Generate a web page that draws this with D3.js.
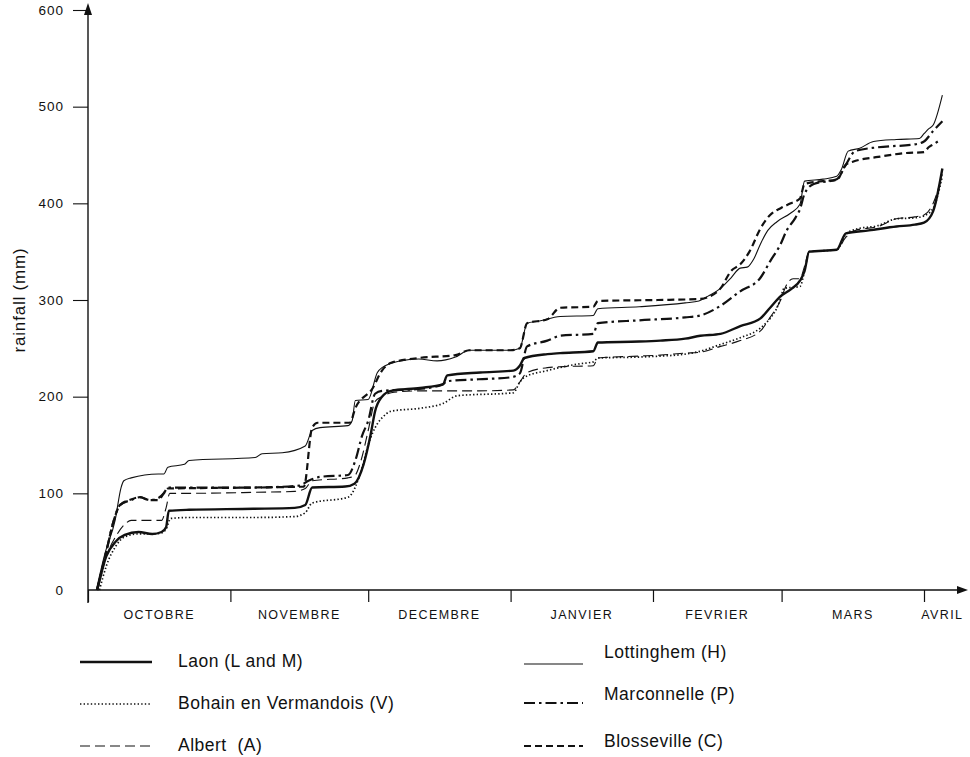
<!DOCTYPE html>
<html>
<head>
<meta charset="utf-8">
<script src="https://cdn.jsdelivr.net/npm/d3@7"></script>
<style>
  body { margin: 0; background: #fff; }
  text { font-family: "Liberation Sans", Arial, sans-serif; fill: #111; white-space: pre; }
</style>
</head>
<body>
<div id="chart"></div>
<script>
// cumulative rainfall, [day after 1 Oct, mm]
var laon = [[2,0],[4,35],[6,50],[8,57],[11,60],[14,58],[16,60],[17,65],[17.6,82],[22,83],[36,84],[45,85],[47.3,88],[48.8,106],[56,107],[58,110],[60,130],[61.5,160],[62.5,185],[64,200],[66,206],[72.3,209],[77.3,213],[78.2,222],[85.4,225],[92.6,227],[94,232],[95,240],[100,244],[102.8,245],[110,247],[111,256],[120,257],[124.6,258],[130,260],[133.3,263],[137.7,265],[142,273],[146.4,281],[148.5,292],[150.8,304],[153,311],[155,320],[156,330],[157,350],[163,352],[165,369],[170,372],[176,376],[180,378],[182,380],[184,392],[186,436]];
var bohain = [[2.5,0],[4,25],[6,45],[8,55],[11,58],[14,58],[16,59],[17,63],[18,74],[22,75],[36,75],[45,76],[47.3,80],[48.8,90],[56.6,96],[59.7,127],[61,150],[63,172],[64,178],[66,185],[72.3,188],[77.3,193],[80.4,201],[92.6,204],[94,215],[95,220],[100,227],[107,234],[110,236],[111,240],[120,241],[124.6,242],[130,244],[133.3,247],[137.7,254],[142,261],[146.4,271],[148.5,281],[150,292],[150.8,302],[151.5,312],[155,314],[156,330],[157,350],[163,352],[165,368],[167,373],[172,377],[176,384],[180,385],[182,387],[184,395],[186,428]];
var albert = [[2,0],[4,35],[6,55],[8,68],[9.4,72],[16,72],[17,85],[17.8,100],[22,100],[36,101],[45,102],[47.3,105],[48.8,113],[56.6,116],[58,118],[59.5,135],[61,165],[62.5,195],[64,200],[66,204],[72,206],[80,206],[85,206],[92.6,207],[94,215],[95.6,225],[100,230],[102.8,231],[110,232],[111,240],[120,242],[124.6,243],[130,245],[133.3,246],[137.7,252],[142,258],[146.4,268],[148.5,282],[150.8,300],[152,315],[153.5,322],[155,322],[156,335],[157,350],[163,352],[165,365],[167,372],[172,376],[176,384],[180,386],[182,388],[184,400],[186,430]];
var lottinghem = [[1.8,0],[3.7,38],[5.9,72],[7.2,106],[7.8,113],[9.4,116],[15.3,120],[16.5,120],[17.4,127],[21,130],[22,134],[36.4,137],[37.9,141],[42.3,142],[47.3,149],[48.8,165],[50.5,168],[56.6,170],[57.5,175],[58.2,196],[61,197],[63,225],[64,230],[68,237],[72,239],[76,237],[80,241],[83,248],[92,248],[94,250],[95.6,276],[98,278],[102.8,283],[110,284],[111,291],[120,293],[130,297],[133,299],[135,304],[137.7,312],[140,323],[142,333],[143.5,334],[145,343],[146.4,358],[148,372],[150,381],[153,390],[155,399],[156,423],[160,425],[163,428],[164,435],[165.5,454],[168,457],[171,464],[176,466],[181,467],[182,472],[183,477],[184,481],[186,512]];
var marconnelle = [[2,0],[4,40],[5.5,70],[7,88],[9.4,93],[11.3,96],[13.5,93],[15.3,95],[16.5,100],[17.4,106],[36,106],[46,108],[48,113],[50.5,117],[56.6,119],[58.2,134],[59.7,160],[61,175],[62.5,203],[64,206],[72,208],[77,212],[78.2,216],[85,218],[92,220],[94,224],[95.6,252],[100,258],[102.8,263],[110,265],[111,276],[120,279],[130,282],[133.3,284],[137.7,294],[142,309],[146.4,323],[148.5,340],[150.8,358],[152,371],[154,385],[155,394],[156,410],[158,420],[163,425],[165,440],[167,454],[172,458],[180,461],[182,464],[184,475],[186,485]];
var blosseville = [[2,0],[4,40],[5.5,70],[7,88],[9,93],[11.3,96],[13.5,93],[15.3,93],[16.5,100],[17.4,105],[36,106],[47,107],[48.8,168],[50,173],[57,173],[58.2,188],[62,209],[64,227],[66,235],[72,240],[80,243],[83,248],[92,248],[94,250],[95.6,276],[100,280],[102.8,292],[110,293],[111,299],[124,300],[133,301],[135,303],[137.7,312],[140,330],[142,337],[144,350],[146.4,374],[148.5,388],[150.8,395],[153,400],[155,405],[156,420],[160,423],[163,424],[165,440],[166.5,443],[172,448],[178,452],[182,453],[183,458],[184,461],[185,464]];

var monthNames = ["OCTOBRE", "NOVEMBRE", "DECEMBRE", "JANVIER", "FEVRIER", "MARS", "AVRIL"];
var yTicks = [0, 100, 200, 300, 400, 500, 600];

var series = [
    {name: "Laon (L and M)", data: laon, width: 2.4, dash: null},
    {name: "Bohain en Vermandois (V)", data: bohain, width: 1.7, dash: "1.4,2.2"},
    {name: "Albert  (A)", data: albert, width: 1.1, dash: "10,5"},
    {name: "Lottinghem (H)", data: lottinghem, width: 1.1, dash: null},
    {name: "Marconnelle (P)", data: marconnelle, width: 2.2, dash: "11,4,2.5,4"},
    {name: "Blosseville (C)", data: blosseville, width: 2.2, dash: "7,4"}
];

var width = 970, height = 757;
var start = new Date(1986, 9, 1);
function dayDate(d) { return new Date(start.getTime() + d * 864e5); }

var svg = d3.select("#chart").append("svg")
    .attr("width", width)
    .attr("height", height);

var x = d3.scaleTime()
    .domain([start, new Date(1987, 3, 1)])
    .range([88, 924]);
var y = d3.scaleLinear()
    .domain([0, 600])
    .range([590, 10]);

// x axis
var monthStarts = d3.timeMonth.range(start, new Date(1987, 3, 2));
var xAxis = d3.axisBottom(x)
    .tickValues(monthStarts)
    .tickSize(12)
    .tickSizeOuter(0)
    .tickFormat("");
var gx = svg.append("g").attr("transform", "translate(0," + y(0) + ")").call(xAxis);
gx.select(".domain").remove();
gx.selectAll(".tick line").attr("stroke", "#111").attr("stroke-width", 1.2);
svg.append("line")
    .attr("x1", 88).attr("x2", 960)
    .attr("y1", y(0)).attr("y2", y(0))
    .attr("stroke", "#111").attr("stroke-width", 1.4);
svg.append("path")
    .attr("d", "M968," + y(0) + "L957," + (y(0) - 4) + "L957," + (y(0) + 4) + "Z")
    .attr("fill", "#111");

var axisEnd = d3.timeDay.offset(new Date(1987, 3, 1), 8);
svg.selectAll(".month")
    .data(monthNames)
    .enter()
    .append("text")
    .attr("class", "month")
    .attr("x", function(d, i) {
        var a = monthStarts[i];
        var b = i < 6 ? monthStarts[i + 1] : axisEnd;
        return (x(a) + x(b)) / 2;
    })
    .attr("y", 619)
    .attr("text-anchor", "middle")
    .style("font-size", "12.5px")
    .style("letter-spacing", "1.4px")
    .text(function(d) { return d; });

// y axis
var yAxis = d3.axisLeft(y)
    .tickValues(yTicks)
    .tickSize(15)
    .tickPadding(9)
    .tickSizeOuter(0);
var gy = svg.append("g").attr("transform", "translate(88,0)").call(yAxis);
gy.select(".domain").remove();
gy.selectAll(".tick line").attr("stroke", "#111").attr("stroke-width", 1.1);
gy.selectAll(".tick text")
    .style("font-family", "'Liberation Sans', Arial, sans-serif")
    .style("font-size", "13.5px")
    .style("letter-spacing", "1px")
    .attr("fill", "#111");
gy.selectAll(".tick").filter(function(d) { return d == 0; }).select("line").remove();
svg.append("line")
    .attr("x1", 88).attr("x2", 88)
    .attr("y1", 603).attr("y2", 14)
    .attr("stroke", "#111").attr("stroke-width", 1.4);
svg.append("path")
    .attr("d", "M88,3L84,15L92,15Z")
    .attr("fill", "#111");

svg.append("text")
    .attr("transform", "translate(25,300) rotate(-90)")
    .attr("text-anchor", "middle")
    .style("font-size", "17px")
    .style("letter-spacing", "0.8px")
    .text("rainfall (mm)");

// curves
var line = d3.line()
    .x(function(d) { return x(dayDate(d[0])); })
    .y(function(d) { return y(d[1]); })
    .curve(d3.curveMonotoneX);

svg.selectAll(".curve")
    .data(series)
    .enter()
    .append("path")
    .attr("class", "curve")
    .attr("d", function(d) { return line(d.data); })
    .attr("fill", "none")
    .attr("stroke", "#111")
    .attr("stroke-width", function(d) { return d.width; })
    .attr("stroke-dasharray", function(d) { return d.dash; })
    .attr("stroke-linejoin", "round");

// legend
var legendPos = [
    {lx: 80, lw: 72, tx: 178, ly: 662, ty: 667},
    {lx: 80, lw: 72, tx: 178, ly: 704, ty: 709},
    {lx: 80, lw: 72, tx: 178, ly: 746, ty: 751},
    {lx: 524, lw: 59, tx: 604, ly: 664, ty: 658},
    {lx: 524, lw: 59, tx: 604, ly: 703, ty: 700},
    {lx: 524, lw: 59, tx: 604, ly: 746, ty: 747}
];

var legend = svg.selectAll(".legend")
    .data(series)
    .enter()
    .append("g")
    .attr("class", "legend");

legend.append("line")
    .attr("x1", function(d, i) { return legendPos[i].lx; })
    .attr("x2", function(d, i) { return legendPos[i].lx + legendPos[i].lw; })
    .attr("y1", function(d, i) { return legendPos[i].ly; })
    .attr("y2", function(d, i) { return legendPos[i].ly; })
    .attr("stroke", "#111")
    .attr("stroke-width", function(d) { return d.width; })
    .attr("stroke-dasharray", function(d) { return d.dash; });

legend.append("text")
    .attr("x", function(d, i) { return legendPos[i].tx; })
    .attr("y", function(d, i) { return legendPos[i].ty; })
    .style("font-size", "17.5px")
    .style("letter-spacing", "0.5px")
    .text(function(d) { return d.name; });
</script>
</body>
</html>
